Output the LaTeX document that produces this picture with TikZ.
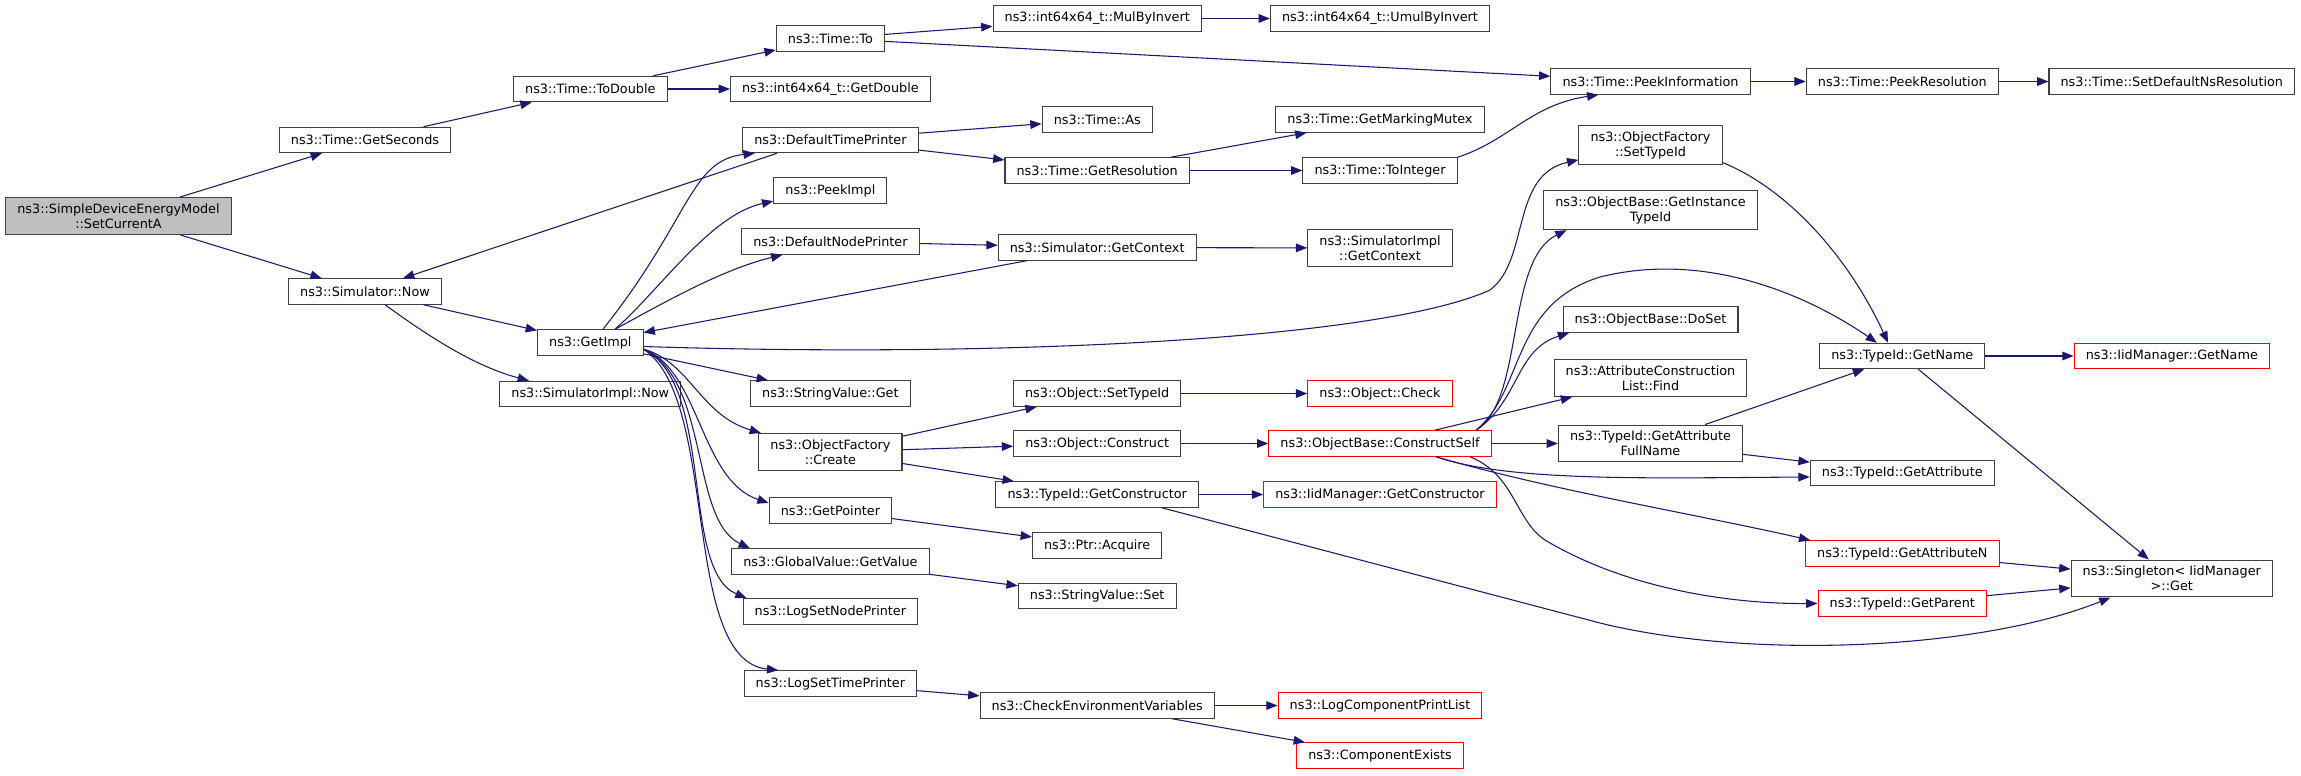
\documentclass[tikz,border=0pt]{standalone}
\usepackage{fontspec}
\setmainfont{DejaVu Sans}
\usepackage{tikz}
\usetikzlibrary{arrows.meta}
\definecolor{edgeblue}{RGB}{25,25,112}
\definecolor{boxgrey}{RGB}{64,64,64}
\tikzstyle{func} = [rectangle, draw=boxgrey, line width=0.8pt, fill=white, minimum height=19.1pt, inner xsep=8.7pt, inner ysep=4.5pt, align=center, font=\fontsize{9.6}{11.25}\selectfont]
\tikzstyle{root} = [func, fill=black!25]
\tikzstyle{trunc} = [func, draw=red]
\tikzstyle{arrow} = [line width=0.8pt, draw=edgeblue, ->, >={Triangle[length=8.5pt,width=6.5pt]}]

\begin{document}
\begin{tikzpicture}[x=0.75pt, y=-0.75pt]

        \useasboundingbox (0,0) rectangle (2301,775);

        \node (setcurrent) [root] at (118.5,216) {ns3::SimpleDeviceEnergyModel\\::SetCurrentA};

        \node (getseconds) [func] at (365,140) {ns3::Time::GetSeconds};
        \node (simnow) [func] at (365,291.5) {ns3::Simulator::Now};

        \node (todouble) [func] at (590.3,89) {ns3::Time::ToDouble};
        \node (getimpl) [func] at (590.3,342.5) {ns3::GetImpl};
        \node (implnow) [func] at (590.3,394) {ns3::SimulatorImpl::Now};

        \node (timeto) [func] at (830.4,38.5) {ns3::Time::To};
        \node (getdouble) [func] at (830.4,89) {ns3::int64x64\_t::GetDouble};
        \node (timeprinter) [func] at (830.4,140) {ns3::DefaultTimePrinter};
        \node (peekimpl) [func] at (830.4,190.5) {ns3::PeekImpl};
        \node (nodeprinter) [func] at (830.4,241.5) {ns3::DefaultNodePrinter};
        \node (strget) [func] at (830.4,393.5) {ns3::StringValue::Get};
        \node (create) [func] at (830.4,452) {ns3::ObjectFactory\\::Create};
        \node (getpointer) [func] at (830.4,510.5) {ns3::GetPointer};
        \node (getvalue) [func] at (830.4,561.5) {ns3::GlobalValue::GetValue};
        \node (lognode) [func] at (830.4,611.5) {ns3::LogSetNodePrinter};
        \node (logtime) [func] at (830.4,683.5) {ns3::LogSetTimePrinter};

        \node (mulinv) [func] at (1097.2,18.5) {ns3::int64x64\_t::MulByInvert};
        \node (timeas) [func] at (1097.2,119.5) {ns3::Time::As};
        \node (getres) [func] at (1097.2,170.5) {ns3::Time::GetResolution};
        \node (simctx) [func] at (1097.2,247.5) {ns3::Simulator::GetContext};
        \node (objsettype) [func] at (1097.2,393.5) {ns3::Object::SetTypeId};
        \node (construct) [func] at (1097.2,443.5) {ns3::Object::Construct};
        \node (getctor) [func] at (1097.2,494.5) {ns3::TypeId::GetConstructor};
        \node (acquire) [func] at (1097.2,545.5) {ns3::Ptr::Acquire};
        \node (strset) [func] at (1097.2,596) {ns3::StringValue::Set};
        \node (checkenv) [func] at (1097.2,705.5) {ns3::CheckEnvironmentVariables};

        \node (umulinv) [func] at (1380,18.5) {ns3::int64x64\_t::UmulByInvert};
        \node (mutex) [func] at (1380,119.5) {ns3::Time::GetMarkingMutex};
        \node (tointeger) [func] at (1380,170.5) {ns3::Time::ToInteger};
        \node (implctx) [func] at (1380,248) {ns3::SimulatorImpl\\::GetContext};
        \node (check) [trunc] at (1380,393.5) {ns3::Object::Check};
        \node (constructself) [trunc] at (1380,443.5) {ns3::ObjectBase::ConstructSelf};
        \node (iidctor) [trunc] at (1380,494.5) {ns3::IidManager::GetConstructor};
        \node (printlist) [trunc] at (1380,705.5) {ns3::LogComponentPrintList};
        \node (compexists) [trunc] at (1380,755.5) {ns3::ComponentExists};

        \node (peekinfo) [func] at (1650.5,81.5) {ns3::Time::PeekInformation};
        \node (factsettype) [func] at (1650.5,145) {ns3::ObjectFactory\\::SetTypeId};
        \node (instancetype) [func] at (1650.5,210) {ns3::ObjectBase::GetInstance\\TypeId};
        \node (doset) [func] at (1650.5,319.5) {ns3::ObjectBase::DoSet};
        \node (attrfind) [func] at (1650.5,378) {ns3::AttributeConstruction\\List::Find};
        \node (attrfullname) [func] at (1650.5,443.5) {ns3::TypeId::GetAttribute\\FullName};

        \node (peekres) [func] at (1902.3,81.5) {ns3::Time::PeekResolution};
        \node (getname) [func] at (1902.3,356) {ns3::TypeId::GetName};
        \node (getattr) [func] at (1902.3,473) {ns3::TypeId::GetAttribute};
        \node (getattrn) [trunc] at (1902.3,553.5) {ns3::TypeId::GetAttributeN};
        \node (getparent) [trunc] at (1902.3,603.5) {ns3::TypeId::GetParent};

        \node (setdefres) [func] at (2171.8,81.5) {ns3::Time::SetDefaultNsResolution};
        \node (iidname) [trunc] at (2171.8,356) {ns3::IidManager::GetName};
        \node (singleton) [func] at (2171.8,578.5) {ns3::Singleton< IidManager\\>::Get};

        \draw [arrow] (setcurrent) -- (getseconds);
        \draw [arrow] (setcurrent) -- (simnow);
        \draw [arrow] (getseconds) -- (todouble);
        \draw [arrow] (todouble) -- (timeto);
        \draw [arrow] (todouble) -- (getdouble);
        \draw [arrow] (timeto) -- (mulinv);
        \draw [arrow] (timeto) -- (peekinfo);
        \draw [arrow] (mulinv) -- (umulinv);
        \draw [arrow] (peekinfo) -- (peekres);
        \draw [arrow] (peekres) -- (setdefres);

        \draw [arrow] ([xshift=-40pt]timeprinter.south) -- ([xshift=28.5pt]simnow.north);
        \draw [arrow] (timeprinter) -- (timeas);
        \draw [arrow] (timeprinter) -- (getres);
        \draw [arrow] (getres) -- (mutex);
        \draw [arrow] (getres) -- (tointeger);
        \draw [arrow] (tointeger.north east) .. controls (1510,140) and (1530,105) .. ([xshift=36pt]peekinfo.south west);

        \draw [arrow] (simnow) -- (getimpl);
        \draw [arrow] ([xshift=15pt]simnow.south) .. controls (420,330) and (470,365) .. ([xshift=-46pt]implnow.north);

        \draw [arrow] ([xshift=9.5pt]getimpl.north) .. controls (690,220) and (690,160) .. ([xshift=9.5pt]timeprinter.south west);
        \draw [arrow] ([xshift=18.5pt]getimpl.north) .. controls (660,290) and (710,215) .. ([yshift=2pt]peekimpl.south west);
        \draw [arrow] ([xshift=18.5pt]getimpl.north) .. controls (660,305) and (720,270) .. ([xshift=31pt]nodeprinter.south west);
        \draw [arrow] (nodeprinter) -- (simctx);
        \draw [arrow] (simctx) -- (implctx);
        \draw [arrow] (simctx) -- (getimpl);
        \draw [arrow] ([yshift=-3pt]getimpl.east) .. controls (1000,358) and (1380,340) .. (1490,290) .. controls (1530,260) and (1510,175) .. ([yshift=4pt]factsettype.south west);
        \draw [arrow] (getimpl) -- (strget);
        \draw [arrow] ([yshift=-5pt]getimpl.east) .. controls (690,362) and (700,415) .. ([xshift=2pt]create.north west);
        \draw [arrow] ([yshift=-5pt]getimpl.east) .. controls (700,370) and (700,480) .. ([yshift=5.6pt]getpointer.west);
        \draw [arrow] ([yshift=-5pt]getimpl.east) .. controls (710,380) and (690,520) .. ([xshift=14pt]getvalue.north west);
        \draw [arrow] ([yshift=-5pt]getimpl.east) .. controls (715,385) and (680,570) .. ([xshift=3pt]lognode.north west);
        \draw [arrow] ([yshift=-5pt]getimpl.east) .. controls (720,400) and (680,660) .. ([xshift=26pt]logtime.north west);

        \draw [arrow] (create) -- (objsettype);
        \draw [arrow] (create) -- (construct);
        \draw [arrow] (create) -- (getctor);
        \draw [arrow] (objsettype) -- (check);
        \draw [arrow] (construct) -- (constructself);
        \draw [arrow] (getctor) -- (iidctor);
        \draw [arrow] ([xshift=48.5pt]getctor.south) -- (1600,623) .. controls (1750,660) and (1980,650) .. ([xshift=-46pt]singleton.south);
        \draw [arrow] (getpointer) -- (acquire);
        \draw [arrow] (getvalue) -- (strset);
        \draw [arrow] (logtime) -- (checkenv);
        \draw [arrow] (checkenv) -- (printlist);
        \draw [arrow] (checkenv) -- (compexists);

        \draw [arrow] ([xshift=72pt]constructself.north) .. controls (1525,400) and (1505,260) .. ([xshift=17.5pt]instancetype.south west);
        \draw [arrow] ([xshift=72pt]constructself.north) .. controls (1525,390) and (1510,305) .. (1600,277) .. controls (1700,252) and (1800,290) .. ([xshift=-19pt]getname.north);
        \draw [arrow] ([xshift=72pt]constructself.north) .. controls (1520,400) and (1515,350) .. ([xshift=5pt]doset.south west);
        \draw [arrow] (constructself) -- (attrfind);
        \draw [arrow] (constructself) -- (attrfullname);
        \draw [arrow] ([xshift=42pt]constructself.south) .. controls (1510,482) and (1650,478) .. ([yshift=-3pt]getattr.west);
        \draw [arrow] ([xshift=42pt]constructself.south) .. controls (1550,490) and (1700,515) .. ([xshift=4pt]getattrn.north west);
        \draw [arrow] ([xshift=67.5pt]constructself.south) .. controls (1515,475) and (1515,520) .. (1545,540) .. controls (1620,585) and (1720,604) .. (getparent.west);

        \draw [arrow] ([yshift=2pt]factsettype.south east) .. controls (1790,190) and (1850,260) .. ([xshift=-10.7pt]getname.north);
        \draw [arrow] (attrfullname) -- (getname);
        \draw [arrow] (attrfullname) -- (getattr);
        \draw [arrow] (getname) -- (iidname);
        \draw [arrow] (getname) -- (singleton);
        \draw [arrow] (getattrn) -- (singleton);
        \draw [arrow] (getparent) -- (singleton);

    \end{tikzpicture}
\end{document}
